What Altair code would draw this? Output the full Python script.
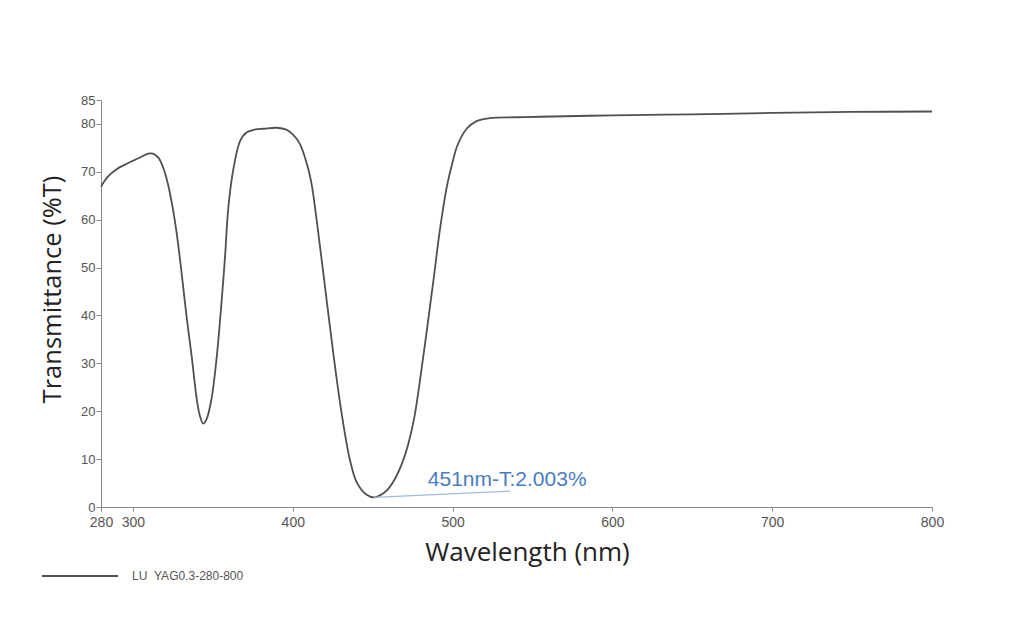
import altair as alt
import pandas as pd

# Spectrum readings (wavelength nm, transmittance %T)
wavelength = [280, 284, 290, 295, 300, 305, 309.5, 312.5, 316, 319, 322, 325,
              327.4, 330.5, 333.6, 336.8, 340, 342, 344, 346, 349, 352.4, 355.5,
              357.6, 359.7, 362.8, 367, 371, 376, 382, 390, 396, 400, 404.5, 409.7,
              412, 415, 420.2, 425.4, 430.6, 435.8, 440, 446, 451, 456, 460, 464,
              468, 472, 476, 481.7, 488, 492, 496.3, 500, 503, 508.8, 515, 523, 540,
              555, 600, 650, 700, 750, 800]
transmittance = [66.9, 68.9, 70.6, 71.5, 72.3, 73.1, 73.8, 73.8, 72.9, 70.8, 67.3,
                 62.2, 57.1, 48.7, 39.6, 31.3, 22.3, 18.9, 17.4, 18.3, 22.3, 31.3,
                 43.1, 52.2, 62.6, 70.5, 76.4, 78.2, 78.8, 79.0, 79.2, 78.8, 77.8,
                 75.8, 70.6, 67.0, 59.8, 45.9, 32.0, 19.5, 9.8, 5.2, 2.6, 2.003, 2.7,
                 3.9, 5.9, 8.8, 12.8, 18.6, 31.5, 47.3, 57.7, 66.7, 72.0, 75.5, 79.0,
                 80.6, 81.2, 81.4, 81.5, 81.8, 82.0, 82.3, 82.5, 82.6]
series_name = "LU\u00a0\u00a0YAG0.3-280-800"

x_ticks = [280, 300, 400, 500, 600, 700, 800]
y_ticks = [0, 10, 20, 30, 40, 50, 60, 70, 80, 85]

# annotation: minimum point, leader end, label anchor
ann_x = [451]
ann_y = [2.003]
ann_x2 = [536]
ann_y2 = [3.3]
ann_label = ["451nm-T:2.003%"]
ann_label_x = [484.5]
ann_label_y = [5.7]

df = pd.DataFrame({"wl": wavelength, "t": transmittance, "series": series_name})
ann = pd.DataFrame({"x": ann_x, "y": ann_y, "x2": ann_x2, "y2": ann_y2,
                    "label": ann_label, "lx": ann_label_x, "ly": ann_label_y})

xscale = alt.Scale(domain=[280, 800], nice=False, zero=False)
yscale = alt.Scale(domain=[0, 85], nice=False)

line = alt.Chart(df).mark_line(strokeWidth=1.8, interpolate="catmull-rom").encode(
    x=alt.X("wl:Q", scale=xscale,
            axis=alt.Axis(title="Wavelength (nm)", values=x_ticks, grid=False,
                          labelFontSize=14, labelColor="#555", labelFont="Liberation Sans",
                          tickSize=4, tickColor="#888", domainColor="#888",
                          labelPadding=4, titleFont="Open Sans", titleFontSize=26,
                          titleFontWeight="normal", titleColor="#222", titlePadding=10,
                          titleX=426, titleAlign="center", labelFlush=False)),
    y=alt.Y("t:Q", scale=yscale,
            axis=alt.Axis(title="Transmittance (%T)", values=y_ticks, grid=False,
                          labelFontSize=13, labelColor="#555", labelFont="Liberation Sans",
                          tickSize=5, tickColor="#888", domainColor="#888",
                          labelPadding=1, titleFont="Open Sans", titleFontSize=25.5,
                          titleFontWeight="normal", titleColor="#222", titlePadding=15,
                          titleY=189, titleAlign="center", labelFlush=False)),
    color=alt.Color("series:N", scale=alt.Scale(range=["#505050"]),
                    legend=alt.Legend(title=None, orient="none", legendX=-60, legendY=437,
                                      symbolType="stroke", symbolSize=5776,
                                      symbolStrokeWidth=2, labelFontSize=12,
                                      labelColor="#555", labelFont="Liberation Sans",
                                      labelOffset=13)),
)

leader = alt.Chart(ann).mark_rule(color="#9dbbe0", strokeWidth=1.3).encode(
    x="x:Q", y="y:Q", x2="x2:Q", y2="y2:Q")

label = alt.Chart(ann).mark_text(align="left", baseline="middle", fontSize=21,
                                 font="Liberation Sans", color="#4a7cc0").encode(
    x="lx:Q", y="ly:Q", text="label:N")

chart = alt.layer(line, leader, label).properties(
    width=831, height=407,
    autosize=alt.AutoSizeParams(type="none"),
    padding={"left": 101, "top": 100, "right": 81, "bottom": 112},
    background="white",
).configure_view(stroke=None)

chart.save("out.html", embed_options={"renderer": "svg", "actions": False})
